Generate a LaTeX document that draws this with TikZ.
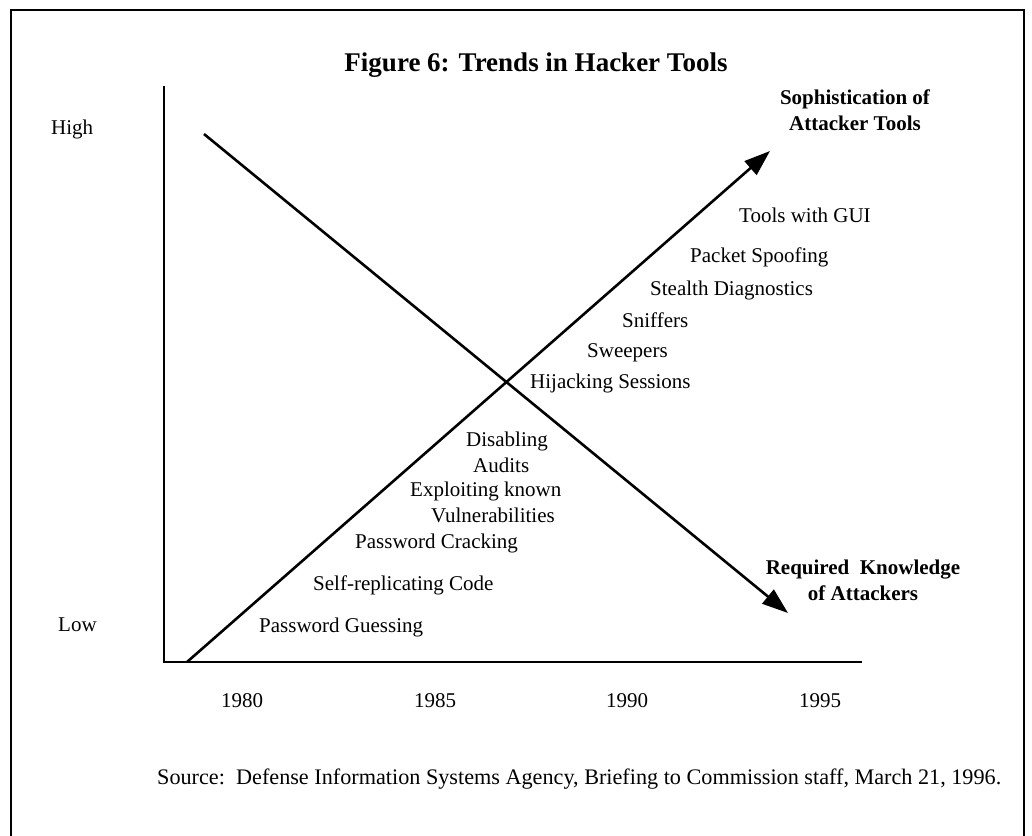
\documentclass[tikz,border=0pt]{standalone}
\usepackage{fontspec}
\setmainfont{Liberation Serif}
\usetikzlibrary{arrows.meta}
\begin{document}
\begin{tikzpicture}[x=1pt,y=-1pt,
  lbl/.style={font=\fontsize{21}{25}\selectfont, inner sep=0pt, anchor=base west},
  yr/.style={font=\fontsize{21}{25}\selectfont, inner sep=0pt, anchor=base},
  blbl/.style={font=\fontsize{21}{25}\selectfont\bfseries, inner sep=0pt, anchor=base},
  trend/.style={line width=2.6pt, -{Triangle[length=26pt,width=18pt]}},
  axis/.style={line width=1.3pt},
  frame/.style={line width=2.5pt}]
\useasboundingbox (0,0) rectangle (1032,835);
% frame (open at the bottom)
\coordinate (fbl) at (11,836);
\coordinate (ftl) at (11,10);
\coordinate (ftr) at (1024,10);
\coordinate (fbr) at (1024,836);
\draw[frame] (fbl) -- (ftl) -- (ftr) -- (fbr);
% title
\node[font=\fontsize{27}{32}\selectfont\bfseries, inner sep=0pt, anchor=base] (title) at (536,71) {Figure 6: Trends in Hacker Tools};
% axes
\coordinate (ytop) at (164,86);
\coordinate (orig) at (164,662);
\coordinate (xend) at (862,662);
\draw[axis] (ytop) -- (orig) -- (xend);
% trend lines
\coordinate (s0) at (187,662);
\coordinate (s1) at (770,151);
\coordinate (k0) at (204,134);
\coordinate (k1) at (788,613);
\draw[trend] (s0) -- (s1);
\draw[trend] (k0) -- (k1);
% axis labels
\node[lbl] (high) at (51,134) {High};
\node[lbl] (low) at (58,631) {Low};
\node[yr] (y80) at (242,707) {1980};
\node[yr] (y85) at (435,707) {1985};
\node[yr] (y90) at (627,707) {1990};
\node[yr] (y95) at (820,707) {1995};
% line labels
\node[blbl] (soph1) at (855,104) {Sophistication of};
\node[blbl] (soph2) at (855,130) {Attacker Tools};
\node[blbl] (req1) at (863,574) {Required\ \ Knowledge};
\node[blbl] (req2) at (863,600) {of Attackers};
% tools
\node[lbl] (t1) at (739,222) {Tools with GUI};
\node[lbl] (t2) at (690,262) {Packet Spoofing};
\node[lbl] (t3) at (650,295) {Stealth Diagnostics};
\node[lbl] (t4) at (622,327) {Sniffers};
\node[lbl] (t5) at (587,357) {Sweepers};
\node[lbl] (t6) at (530,388) {Hijacking Sessions};
\node[lbl] (t7) at (466,446) {Disabling};
\node[lbl] (t8) at (473,472) {Audits};
\node[lbl] (t9) at (410,496) {Exploiting known};
\node[lbl] (t10) at (431,522) {Vulnerabilities};
\node[lbl] (t11) at (355,548) {Password Cracking};
\node[lbl] (t12) at (313,590) {Self-replicating Code};
\node[lbl] (t13) at (259,632) {Password Guessing};
% source
\node[lbl, font=\fontsize{22.2}{26}\selectfont] (src) at (157,784) {Source:\ \ Defense Information Systems Agency, Briefing to Commission staff, March 21, 1996.};
\end{tikzpicture}
\end{document}
